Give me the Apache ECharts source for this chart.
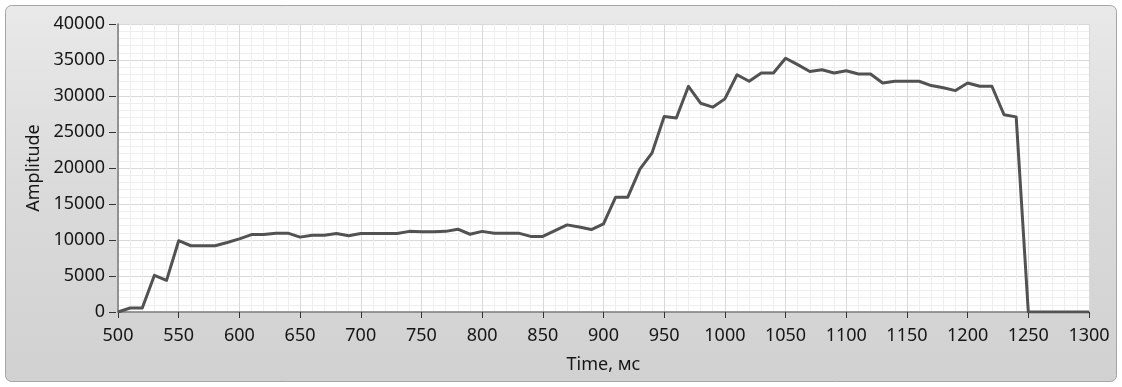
<!DOCTYPE html>
<html>
<head>
<meta charset="utf-8">
<title>Amplitude vs Time</title>
<script src="https://cdn.jsdelivr.net/npm/echarts@6/dist/echarts.min.js"></script>
<style>
  html, body { margin: 0; padding: 0; background: #ffffff; }
  #chart { width: 1122px; height: 387px; }
</style>
</head>
<body>
<div id="chart"></div>
<script>
// Sample times, ms
const timeMs = [
  500, 510, 520, 530, 540, 550, 560, 570, 580, 590,
  600, 610, 620, 630, 640, 650, 660, 670, 680, 690,
  700, 710, 720, 730, 740, 750, 760, 770, 780, 790,
  800, 810, 820, 830, 840, 850, 860, 870, 880, 890,
  900, 910, 920, 930, 940, 950, 960, 970, 980, 990,
  1000, 1010, 1020, 1030, 1040, 1050, 1060, 1070, 1080, 1090,
  1100, 1110, 1120, 1130, 1140, 1150, 1160, 1170, 1180, 1190,
  1200, 1210, 1220, 1230, 1240, 1250, 1260, 1270, 1280, 1290,
  1300
];

// Measured amplitude at each sample time
const amplitude = [
  0, 550, 550, 5100, 4400, 9900, 9200, 9200, 9200, 9650,
  10150, 10750, 10750, 10950, 10950, 10400, 10650, 10650, 10900, 10600,
  10900, 10900, 10900, 10900, 11200, 11150, 11150, 11200, 11500, 10800,
  11200, 10950, 10950, 10950, 10500, 10500, 11300, 12100, 11800, 11450,
  12250, 15950, 15950, 19850, 22100, 27150, 26950, 31350, 29000, 28450,
  29600, 32950, 32050, 33200, 33200, 35250, 34350, 33400, 33650, 33200,
  33500, 33050, 33050, 31800, 32050, 32050, 32050, 31450, 31150, 30750,
  31800, 31350, 31350, 27400, 27100, 0, 0, 0, 0, 0,
  0
];

// Axis ranges and tick steps
const xRange = { min: 500, max: 1300, step: 50 };
const yRange = { min: 0, max: 40000, step: 5000 };
const xAxisTitle = 'Time, мс';
const yAxisTitle = 'Amplitude';

const FONT = '"Noto Sans", "Open Sans", sans-serif';
const TEXT = '#161616';

// plain integers, no thousands separators
const plain = v => String(Math.round(v));

const chart = echarts.init(document.getElementById('chart'), null, { renderer: 'canvas' });

const points = timeMs.map((t, i) => [t, amplitude[i]]);

chart.setOption({
  animation: false,
  backgroundColor: '#ffffff',
  graphic: [
    {
      // Panel behind the graph
      type: 'rect',
      z: -10,
      shape: { x: 5.5, y: 5.5, width: 1111, height: 376, r: 6 },
      style: {
        fill: new echarts.graphic.LinearGradient(0, 0, 0, 1, [
          { offset: 0, color: '#e9e9e9' },
          { offset: 0.5, color: '#dadada' },
          { offset: 1, color: '#d1d1d1' }
        ]),
        stroke: '#a6a6a6',
        lineWidth: 1
      }
    }
  ],
  grid: {
    left: 118,
    top: 24,
    width: 971,
    height: 288,
    show: true,
    backgroundColor: '#ffffff',
    borderWidth: 0
  },
  xAxis: [
    {
      type: 'value',
      min: xRange.min,
      max: xRange.max,
      interval: xRange.step,
      position: 'bottom',
      offset: 2,
      name: xAxisTitle,
      nameLocation: 'middle',
      nameGap: 42,
      nameTextStyle: { fontFamily: FONT, fontSize: 18, color: TEXT },
      axisLine: { show: false },
      axisTick: { show: true, inside: false, length: 6, lineStyle: { color: '#333333', width: 1 } },
      axisLabel: { fontFamily: FONT, fontSize: 18, color: TEXT, margin: 13, formatter: plain },
      splitLine: { show: true, lineStyle: { color: '#d9d9d9', width: 1 } },
      minorTick: { show: false, splitNumber: 5 },
      minorSplitLine: { show: true, lineStyle: { color: '#eeeeee', width: 1 } }
    },
    {
      // top edge of the plot area
      type: 'value',
      min: xRange.min,
      max: xRange.max,
      position: 'top',
      axisLine: { show: true, lineStyle: { color: '#7a7a7a', width: 1.5 } },
      axisTick: { show: false },
      axisLabel: { show: false },
      splitLine: { show: false }
    }
  ],
  yAxis: [
    {
      type: 'value',
      min: yRange.min,
      max: yRange.max,
      interval: yRange.step,
      position: 'left',
      offset: 2,
      name: yAxisTitle,
      nameLocation: 'middle',
      nameGap: 73,
      nameRotate: 90,
      nameTextStyle: { fontFamily: FONT, fontSize: 18, color: TEXT },
      axisLine: { show: false },
      axisTick: { show: true, inside: false, length: 7, lineStyle: { color: '#333333', width: 1 } },
      axisLabel: { fontFamily: FONT, fontSize: 18, color: TEXT, margin: 11, formatter: plain },
      splitLine: { show: true, lineStyle: { color: '#d9d9d9', width: 1 } },
      minorTick: { show: false, splitNumber: 5 },
      minorSplitLine: { show: true, lineStyle: { color: '#eeeeee', width: 1 } }
    },
    {
      // left edge of the plot area
      type: 'value',
      min: yRange.min,
      max: yRange.max,
      position: 'left',
      axisLine: { show: true, lineStyle: { color: '#7a7a7a', width: 1.5 } },
      axisTick: { show: false },
      axisLabel: { show: false },
      splitLine: { show: false }
    }
  ],
  series: [
    {
      type: 'line',
      xAxisIndex: 0,
      yAxisIndex: 0,
      data: points,
      showSymbol: false,
      symbol: 'none',
      lineStyle: { color: '#525252', width: 3, join: 'round' },
      z: 5
    }
  ]
});
</script>
</body>
</html>
